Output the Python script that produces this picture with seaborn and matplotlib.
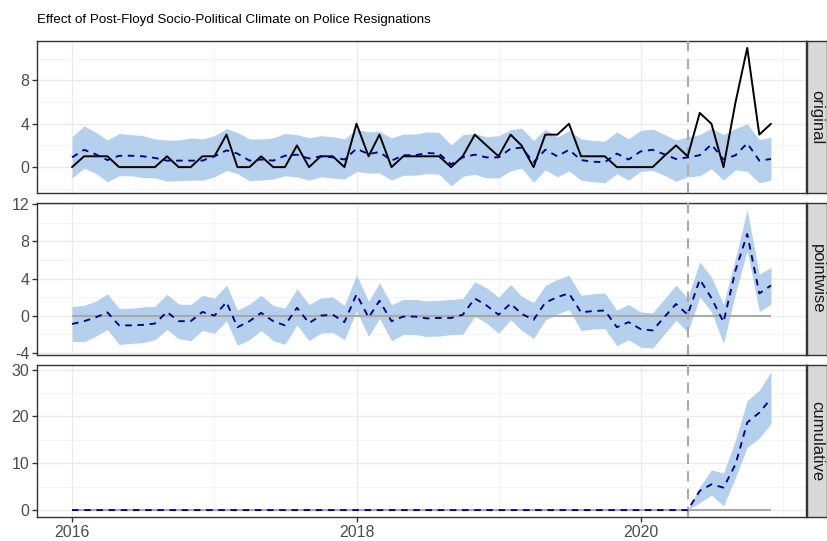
import matplotlib
matplotlib.use("Agg")
import matplotlib.pyplot as plt
import matplotlib.dates as mdates
from matplotlib.ticker import MultipleLocator
import seaborn as sns
import pandas as pd

# monthly series, Jan 2016 - Dec 2020
dates = pd.date_range("2016-01-01", periods=60, freq="MS")
intervention = pd.Timestamp("2020-05-01")

original = [0, 1, 1, 1, 0, 0, 0, 0, 1, 0, 0, 1,
            1, 3, 0, 0, 1, 0, 0, 2, 0, 1, 1, 0,
            4, 1, 3, 0, 1, 1, 1, 1, 0, 1, 3, 2,
            1, 3, 2, 0, 3, 3, 4, 1, 1, 1, 0, 0,
            0, 0, 1, 2, 1, 5, 4, 0, 6, 11, 3, 4]

effect = [-0.9, -0.6, -0.2, 0.35, -1.05, -1.05, -1.0, -0.85, 0.4, -0.6, -0.6, 0.4,
          0.0, 1.45, -1.25, -0.6, 0.3, -0.6, -1.05, 0.85, -0.8, 0.0, 0.1, -0.7,
          2.3, -0.2, 1.6, -0.6, -0.1, -0.1, -0.3, -0.25, -0.25, 0.1, 1.85, 1.1,
          0.1, 1.3, 0.2, -0.45, 1.4, 2.0, 2.4, 0.35, 0.5, 0.55, -1.25, -0.7,
          -1.45, -1.6, -0.2, 1.25, 0.1, 3.9, 1.9, -0.7, 4.9, 8.8, 2.4, 3.25]

effect_upper = [1.0, 1.1, 1.55, 2.35, 0.8, 0.8, 0.95, 1.0, 2.3, 1.25, 1.2, 2.2,
                1.9, 3.3, 0.6, 1.25, 2.2, 1.1, 0.8, 2.9, 1.2, 1.9, 2.0, 1.1,
                4.4, 1.55, 3.55, 1.2, 1.75, 1.75, 1.6, 1.65, 1.75, 1.85, 3.65, 3.0,
                2.0, 3.35, 2.1, 1.4, 3.25, 3.9, 4.35, 2.2, 2.35, 2.45, 0.6, 1.2,
                0.4, 0.3, 1.75, 3.3, 1.9, 5.8, 4.15, 1.2, 6.25, 11.4, 4.45, 5.2]

effect_lower = [-2.8, -2.8, -2.25, -1.5, -3.1, -3.0, -2.9, -2.6, -1.5, -2.5, -2.7, -1.6,
                -1.9, -0.55, -3.2, -2.6, -1.6, -2.7, -3.1, -1.0, -2.7, -1.9, -1.8, -2.6,
                0.5, -2.25, -0.3, -2.7, -2.05, -2.05, -2.25, -2.2, -2.05, -2.0, -0.1, -0.8,
                -1.9, -0.45, -1.6, -2.45, -0.5, 0.2, 0.65, -1.6, -1.45, -1.4, -3.25, -2.6,
                -3.4, -3.5, -2.05, -0.5, -1.8, 2.0, 0.4, -3.0, 2.45, 7.0, 0.45, 1.25]

# cumulative effect from May 2020 on (zero before)
cum_post = [0, 4.1, 5.5, 4.8, 9.8, 18.7, 20.8, 23.8]
cum_post_lower = [0, 1.6, 3.2, 0.9, 7.0, 13.4, 15.4, 18.4]
cum_post_upper = [0, 5.0, 8.6, 7.9, 15.0, 23.4, 25.6, 29.5]

n_pre = len(dates) - len(cum_post)
df = pd.DataFrame({
    "date": dates,
    "original": original,
    "effect": effect,
    "effect_lower": effect_lower,
    "effect_upper": effect_upper,
    "cum": [0] * n_pre + cum_post,
    "cum_lower": [0] * n_pre + cum_post_lower,
    "cum_upper": [0] * n_pre + cum_post_upper,
})
df["pred"] = df["original"] - df["effect"]
df["pred_lower"] = df["original"] - df["effect_upper"]
df["pred_upper"] = df["original"] - df["effect_lower"]

sns.set_style("white")
plt.rcParams["font.family"] = ["Liberation Sans", "DejaVu Sans"]
plt.rcParams["axes.unicode_minus"] = False

BAND = "#B5D0ED"
DASH = (0, (3.5, 3))
W, H = 828, 541


def rect(x0, y0, x1, y1):
    return [x0 / W, 1 - y1 / H, (x1 - x0) / W, (y1 - y0) / H]


fig = plt.figure(figsize=(W / 100, H / 100), dpi=100)
rows = [(41, 193), (203, 355), (365, 517)]
panels = [
    ("original", "pred", "pred_lower", "pred_upper", 4, 2),
    ("pointwise", "effect", "effect_lower", "effect_upper", 4, 2),
    ("cumulative", "cum", "cum_lower", "cum_upper", 10, 5),
]

axes = []
for k, ((y0, y1), (label, col, lo, hi, major, minor)) in enumerate(zip(rows, panels)):
    ax = fig.add_axes(rect(37, y0, 806, y1), sharex=axes[0] if axes else None)
    axes.append(ax)

    ax.fill_between(df["date"], df[lo], df[hi], color=BAND, lw=0, zorder=2)
    if label != "original":
        ax.hlines(0, df["date"].iloc[0], df["date"].iloc[-1], color="#A9A9A9", lw=1.5, zorder=3)
    ax.axvline(intervention, color="#A9A9A9", lw=1.5, linestyle=(0, (5, 3.5)), zorder=3)
    if label == "original":
        sns.lineplot(data=df, x="date", y="original", ax=ax, color="black", lw=1.4, zorder=4)
    sns.lineplot(data=df, x="date", y=col, ax=ax, color="#00008B", lw=1.35,
                 linestyle=DASH, zorder=5)

    ax.yaxis.set_major_locator(MultipleLocator(major))
    ax.yaxis.set_minor_locator(MultipleLocator(minor))
    ax.xaxis.set_major_locator(mdates.YearLocator(2))
    ax.xaxis.set_minor_locator(mdates.YearLocator(1))
    ax.xaxis.set_major_formatter(mdates.DateFormatter("%Y"))
    ax.grid(which="major", color="#EBEBEB", lw=1.0, zorder=0)
    ax.grid(which="minor", color="#F3F3F3", lw=0.6, zorder=0)
    ax.set_axisbelow(True)
    ax.set_xlabel("")
    ax.set_ylabel("")
    for s in ax.spines.values():
        s.set_color("#333333")
        s.set_linewidth(1.0)
    ax.tick_params(axis="y", which="major", left=True, length=3.5, width=1.0,
                   color="#333333", labelsize=11.5, labelcolor="#4D4D4D", pad=2)
    ax.tick_params(axis="both", which="minor", length=0)
    if k < 2:
        ax.tick_params(axis="x", which="major", bottom=False, labelbottom=False)
    else:
        ax.tick_params(axis="x", which="major", bottom=True, length=3.5, width=1.0,
                       color="#333333", labelsize=11.5, labelcolor="#4D4D4D", pad=2)

    sax = fig.add_axes(rect(807, y0, 827, y1))
    sax.set_facecolor("#D9D9D9")
    sax.set_xticks([])
    sax.set_yticks([])
    for s in sax.spines.values():
        s.set_color("#333333")
        s.set_linewidth(1.0)
    sax.text(0.5, 0.5, label, rotation=270, ha="center", va="center",
             fontsize=12, color="#1A1A1A", transform=sax.transAxes)

axes[0].set_xlim(df["date"].iloc[0] - pd.Timedelta(days=90),
                 df["date"].iloc[-1] + pd.Timedelta(days=90))

fig.text(37 / W, 1 - 20 / H,
         "Effect of Post-Floyd Socio-Political Climate on Police Resignations",
         fontsize=9.6, ha="left", va="center", color="black")

fig.savefig("out.png", dpi=100)
